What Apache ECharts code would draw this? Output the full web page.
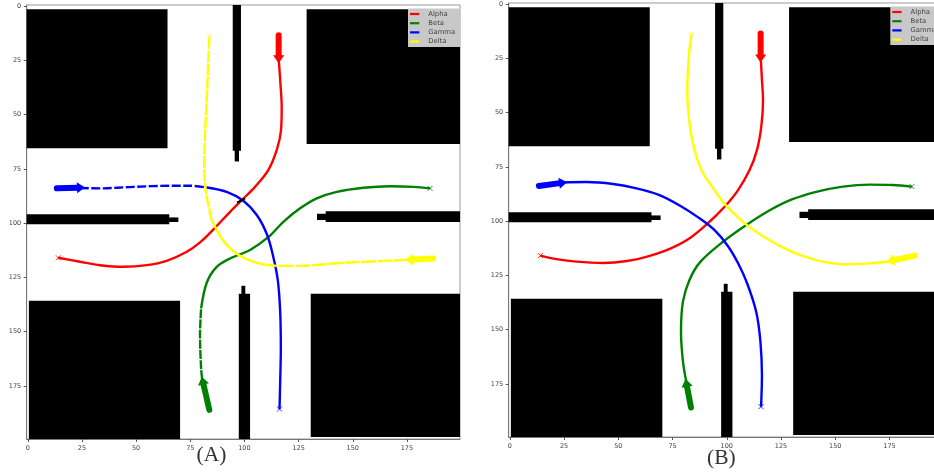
<!DOCTYPE html>
<html><head><meta charset="utf-8">
<style>html,body{margin:0;padding:0;background:#fff;overflow:hidden}#c{width:934px;height:474px}</style>
<script src="https://cdn.jsdelivr.net/npm/echarts@6/dist/echarts.min.js"></script>
</head><body><div id="c"></div>
<script>
// ---- data (map coordinates) ----
const seriesNames = ['Alpha','Beta','Gamma','Delta'];
const tickValues = [0,25,50,75,100,125,150,175];
const obstacles = [
 [-0.5,1.5,64.5,65.5],[128.7,1.5,199.5,63.5],[94.6,-0.5,98.4,66.7],[95.5,66,97.5,71.6],
 [-0.5,95.9,65.3,100.5],[65,97.4,69.5,99.5],[137.5,94.6,199.5,99.5],[133.5,95.7,138,98.6],
 [0.5,135.8,70.3,199.5],[130.6,132.6,199.5,198.6],[97.4,132.6,102.6,199.5],[98.6,128.9,100.4,133]
];
// Panel A
const alphaA = [[115.8,24],[116.6,35.6],[117.2,46.4],[116.9,57.1],[115,66],[111,75.6],[104.9,83.3],[98.8,89.4],[93.4,94.8],[85.7,102.9],[79.5,108.9],[73.4,113.2],[64.1,117.4],[54.9,119.4],[44.1,120.1],[33.4,119.4],[24.1,117.8],[14.1,116]];
const gammaADash = [[24,83.8],[33.4,84],[48.8,83.3],[65.7,82.8],[74.9,82.8],[82.6,83.6]];
const gammaASolid = [[82.6,83.6],[91.8,85.6],[99.5,89.7],[105.7,96.3],[110.5,105.5],[113.3,115.5],[115.4,126.3],[116.5,140.8],[116.8,157.7],[116.5,173.1],[116.2,185.7]];
const deltaADashLow = [[176,116.9],[156.4,117.8],[141.1,118.6],[125.7,119.7],[114.9,119.7]];
const deltaASolid = [[114.9,119.7],[105.7,118.3],[97.2,114.6],[90.5,108.5],[84.9,98.6]];
const deltaADashUp = [[84.9,98.6],[82.3,86],[81.4,73],[81.8,58.7],[82.6,43.3],[83.2,28],[83.8,14.1]];
const betaADash = [[80.5,172],[80,167],[79.5,151.6],[80,139.3]];
const betaASolid = [[80,139.3],[82.6,127.5],[87.2,120.2],[93.4,116.3],[102.6,112.4],[111,106.5],[118,99.4],[125.7,93.2],[133.4,88.6],[142.6,85.6],[154.9,83.7],[167.2,83],[178,83.3],[185.7,84]];
const contactA = [[96.6,90.6],[100.3,88.6]];
// Panel B
const alphaB = [[115.6,24],[116.2,35],[116.7,44.2],[115.9,56.5],[113.9,67.3],[110.5,76.5],[105.2,85.7],[99,93.4],[91.3,101],[82.9,107.9],[73.7,112.8],[64.5,116],[54,118.4],[43,119.3],[30.7,118.7],[21.5,117.5],[14.1,115.9]];
const betaB = [[81.5,175],[79.8,164.7],[78.9,150.9],[79.8,137.1],[82.8,127.1],[87.9,118.7],[98.3,109.5],[109,101.8],[119.8,95],[130,90],[141.2,86.5],[153.5,84.1],[165.8,83.2],[176.6,83.4],[185.3,84.1]];
const gammaB = [[24,82.2],[35.3,82],[47.6,82.9],[58.4,84.9],[69,88],[78.5,92.9],[87,98.4],[94.5,104.3],[100.5,111.5],[105.5,120],[109.5,129],[113.6,142],[115.5,155.5],[116.2,170.9],[115.8,185.5]];
const deltaB = [[176,118.4],[164.3,119.6],[155.1,119.9],[144.3,118.7],[133.6,115.6],[124.4,111.4],[116.7,107],[108,100.8],[99.8,93],[93.7,84.9],[88.3,76.5],[84.8,66],[82.7,54],[81.8,39.6],[82.5,24.3],[83.7,14]];
// arrows: start x,y → tip x,y
const arrowsA = [[115.8,13.4,115.8,26.4],[83.8,186.1,80.3,170.8],[13.4,84,26.4,83.6],[187.2,116.3,174.1,117]];
const arrowsB = [[115.6,13.5,115.6,26.9],[83.5,185.9,81,172.7],[13.4,83.8,26.4,82.1],[186.6,115.9,173.5,118.7]];
// run ends (the x marks)
const endsA = [[14.1,116],[185.7,84],[116.2,185.7],[83.8,14.1]];
const endsB = [[14.1,115.9],[185.3,84.1],[115.8,185.5],[83.7,14]];
// text notes
const notesA = [[119.7,16.7,'Start'],[87.8,17,'End'],[18,87.1,'Start'],[189.8,86.8,'End'],[18,119,'End'],[190.2,119,'Start'],[88.1,188.9,'Start'],[120.1,188.6,'End']];
const notesB = [[119.8,16.7,'Start'],[87.8,17,'End'],[18,87.1,'Start'],[189.8,86.8,'End'],[18,119,'End'],[190.2,118.7,'Start'],[88.1,188.9,'Start'],[120.1,188.6,'End']];
const captions = ['(A)','(B)'];

// ---- styling ----
const colors = {Alpha:'#ff0000',Beta:'#008000',Gamma:'#0000ff',Delta:'#ffff00'};
const fam = '"DejaVu Sans"';
const panels = [
  {left:26.7,top:5,width:433.3,height:434,legendLeft:408,legendTop:8.5},
  {left:508.7,top:3,width:434,height:434,legendLeft:890.3,legendTop:6.5}
];
function axis(type,i,inverse){
  return {type:'value',gridIndex:i,min:-0.5,max:199.5,inverse:inverse,
    splitLine:{show:false},
    axisLine:{show:true,onZero:false,lineStyle:{color:'#777',width:1}},
    axisTick:{show:true,length:3,customValues:tickValues,lineStyle:{color:'#555',width:1}},
    axisLabel:{show:true,margin:type==='x'?6:5.5,fontSize:6.5,fontFamily:fam,color:'#444',customValues:tickValues,hideOverlap:false}};
}
function path(name,i,data,dash){
  return {type:'line',name:name,xAxisIndex:i,yAxisIndex:i,data:data,symbol:'none',smooth:0.33,z:4,animation:false,silent:true,
    lineStyle:{color:colors[name],width:2.4,type:dash||'solid',cap:'butt'}};
}
function blocks(i){
  return {type:'custom',xAxisIndex:i,yAxisIndex:i,data:obstacles,encode:{x:[0,2],y:[1,3]},z:2,animation:false,silent:true,clip:true,
    renderItem:function(p,api){
      const a=api.coord([api.value(0),api.value(1)]),b=api.coord([api.value(2),api.value(3)]);
      return {type:'rect',shape:{x:a[0],y:a[1],width:b[0]-a[0],height:b[1]-a[1]},style:{fill:'#000',stroke:'#000',lineWidth:0}};
    }};
}
function arrows(i,rows){
  return rows.map(function(row,k){
    const nm=seriesNames[k];
    return {type:'custom',xAxisIndex:i,yAxisIndex:i,data:[row],encode:{x:[0,2],y:[1,3]},z:6,animation:false,silent:true,
      renderItem:function(p,api){
        const s=api.coord([api.value(0),api.value(1)]),t=api.coord([api.value(2),api.value(3)]);
        const dx=t[0]-s[0],dy=t[1]-s[1],L=Math.hypot(dx,dy),ux=dx/L,uy=dy/L,h=8,w=5.6;
        const bx=t[0]-ux*h,by=t[1]-uy*h;
        return {type:'group',children:[
          {type:'line',shape:{x1:s[0],y1:s[1],x2:bx+ux,y2:by+uy},style:{stroke:colors[nm],lineWidth:6,lineCap:'round'}},
          {type:'polygon',shape:{points:[[t[0],t[1]],[bx-uy*w,by+ux*w],[bx+uy*w,by-ux*w]]},style:{fill:colors[nm]}}
        ]};
      }};
  });
}
function ends(i,rows){
  return rows.map(function(pt,k){
    const nm=seriesNames[k];
    return {type:'scatter',xAxisIndex:i,yAxisIndex:i,data:[pt],symbol:'path://M0 0L10 10M10 0L0 10',symbolSize:5,z:6,animation:false,silent:true,
      itemStyle:{color:'none',borderColor:colors[nm],borderWidth:1}};
  });
}
function notes(i,rows){
  return {type:'scatter',xAxisIndex:i,yAxisIndex:i,data:rows,symbolSize:1,itemStyle:{opacity:0},z:7,animation:false,silent:true,
    label:{show:true,position:'right',distance:0,fontSize:7,fontFamily:fam,color:'#333',formatter:function(p){return p.value[2];}}};
}
const series = [
  blocks(0),
  path('Alpha',0,alphaA),
  path('Beta',0,betaADash,[9,1.2]),path('Beta',0,betaASolid),
  path('Gamma',0,gammaADash,[9,2.5]),path('Gamma',0,gammaASolid),
  path('Delta',0,deltaADashLow,[15,1.5]),path('Delta',0,deltaASolid),path('Delta',0,deltaADashUp,[12,1.2]),
  {type:'line',xAxisIndex:0,yAxisIndex:0,data:contactA,symbol:'none',z:5,animation:false,silent:true,lineStyle:{color:'#000',width:2}},
  ...arrows(0,arrowsA),...ends(0,endsA),notes(0,notesA),
  blocks(1),
  path('Alpha',1,alphaB),path('Beta',1,betaB),path('Gamma',1,gammaB),path('Delta',1,deltaB),
  ...arrows(1,arrowsB),...ends(1,endsB),notes(1,notesB)
];
const option = {
  backgroundColor:'#fff',animation:false,
  grid:panels.map(function(p){return {left:p.left,top:p.top,width:p.width,height:p.height,show:true,borderColor:'#999',borderWidth:1,backgroundColor:'#fff',containLabel:false,outerBoundsMode:'none'};}),
  xAxis:[axis('x',0,false),axis('x',1,false)],
  yAxis:[axis('y',0,true),axis('y',1,true)],
  legend:panels.map(function(p){return {
    orient:'vertical',left:p.legendLeft,top:p.legendTop,selectedMode:false,z:20,
    backgroundColor:'#c8c8c8',borderWidth:0,padding:[2,5,2,2],itemGap:2.2,itemWidth:9.3,itemHeight:2.2,
    textStyle:{fontSize:6.8,lineHeight:7,fontFamily:fam,color:'#444',padding:[0,0,0,4]},
    data:seriesNames.map(function(n){return {name:n,icon:'rect',itemStyle:{color:colors[n]}};})
  };}),
  graphic:[
    {type:'text',left:196.5,top:444,z:30,style:{text:captions[0],font:'21.5px "Liberation Serif"',fill:'#333'}},
    {type:'text',left:707,top:447,z:30,style:{text:captions[1],font:'21.5px "Liberation Serif"',fill:'#333'}}
  ],
  series:series
};
const chart = echarts.init(document.getElementById('c'),null,{renderer:'canvas',width:934,height:474});
chart.setOption(option);
</script></body></html>
